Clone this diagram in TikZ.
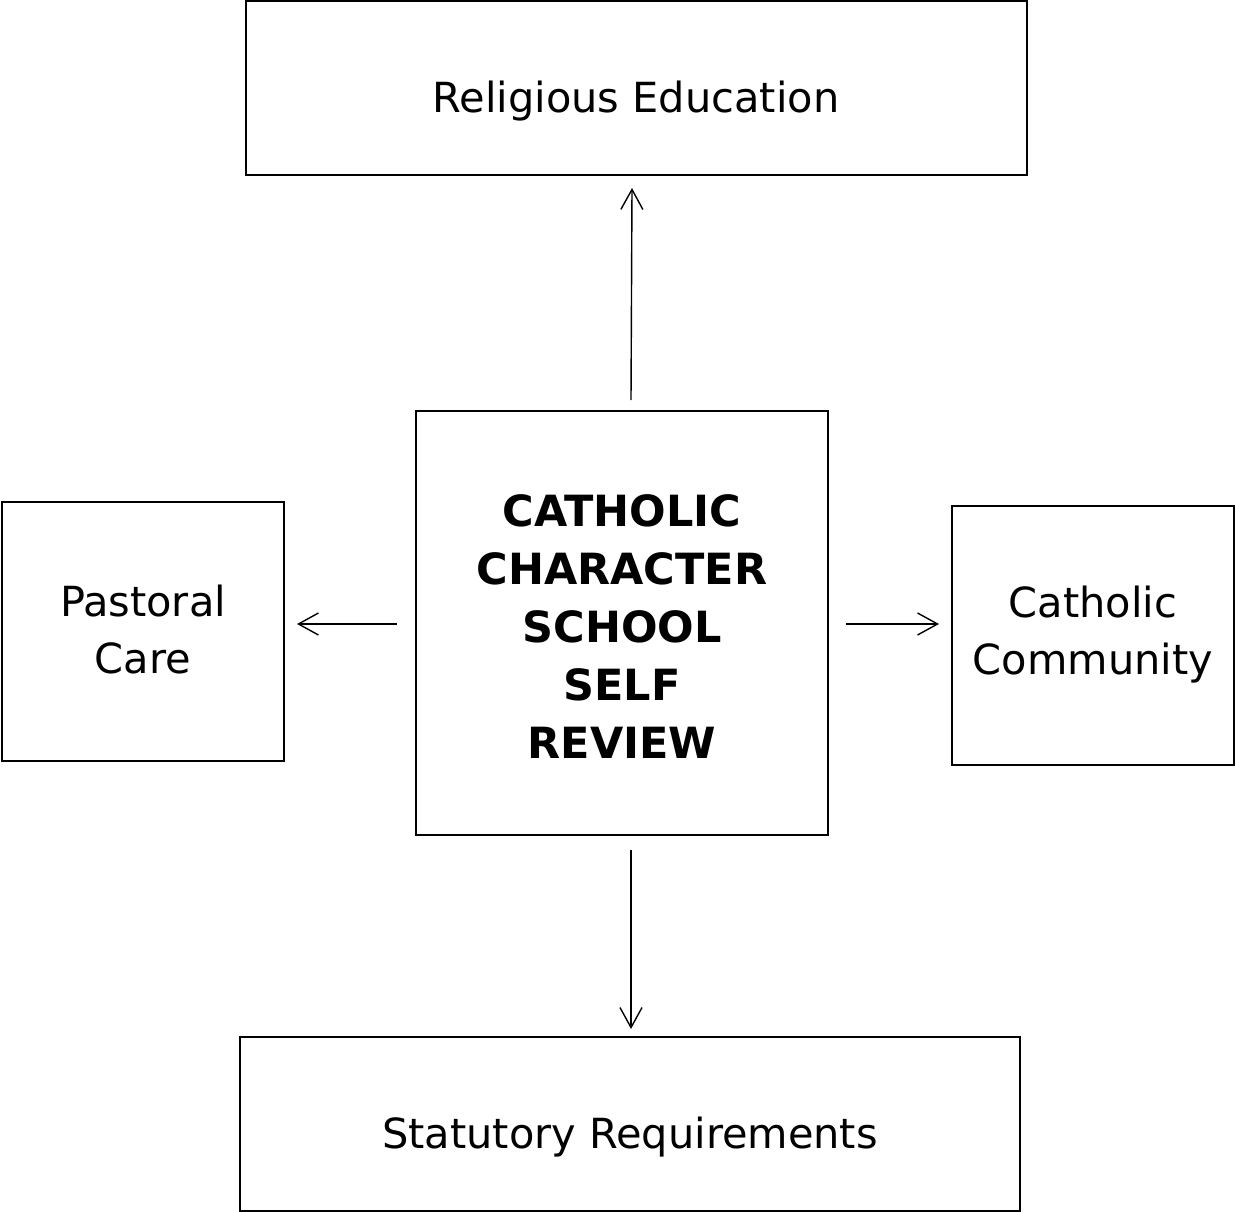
\documentclass[tikz,border=0pt]{standalone}
\usepackage{fontspec}
\setmainfont{DejaVu Sans}
\usetikzlibrary{arrows.meta}
\begin{document}
\begin{tikzpicture}[x=1pt,y=-1pt,
  box/.style={draw,line width=1.2pt,inner sep=0pt},
  lbl/.style={font=\fontsize{41.5}{57}\selectfont,align=center},
  blbl/.style={font=\fontsize{43}{58}\selectfont\bfseries,align=center},
  arr/.style={line width=1.4pt,-{Straight Barb[length=20pt,width=22pt,line width=1.4pt]}}]
\useasboundingbox (0,0) rectangle (1235,1212);
% boxes
\node[box,minimum width=781pt,minimum height=174pt] (re) at (636.5,88) {};
\node[lbl] (ret) at (636,101) {Religious Education};
\node[box,minimum width=412pt,minimum height=424pt] (c) at (622,623) {};
\node[blbl] (ct) at (622,627) {CATHOLIC\\CHARACTER\\SCHOOL\\SELF\\REVIEW};
\node[box,minimum width=282pt,minimum height=259pt] (pc) at (143,631.5) {};
\node[lbl] (pct) at (143,630) {Pastoral\\Care};
\node[box,minimum width=282pt,minimum height=259pt] (cc) at (1093,635.5) {};
\node[lbl] (cct) at (1093,635) {Catholic\\Community};
\node[box,minimum width=780pt,minimum height=174pt] (sr) at (630,1124) {};
\node[lbl] (srt) at (630,1137) {Statutory Requirements};
% arrow end points
\coordinate (u0) at (631,400);
\coordinate (u1) at (632,188);
\coordinate (l0) at (397,624);
\coordinate (l1) at (297,624);
\coordinate (r0) at (846,624);
\coordinate (r1) at (939,624);
\coordinate (d0) at (631,850);
\coordinate (d1) at (631,1029);
\draw[arr] (u0) -- (u1);
\draw[arr] (l0) -- (l1);
\draw[arr] (r0) -- (r1);
\draw[arr] (d0) -- (d1);
\end{tikzpicture}
\end{document}
